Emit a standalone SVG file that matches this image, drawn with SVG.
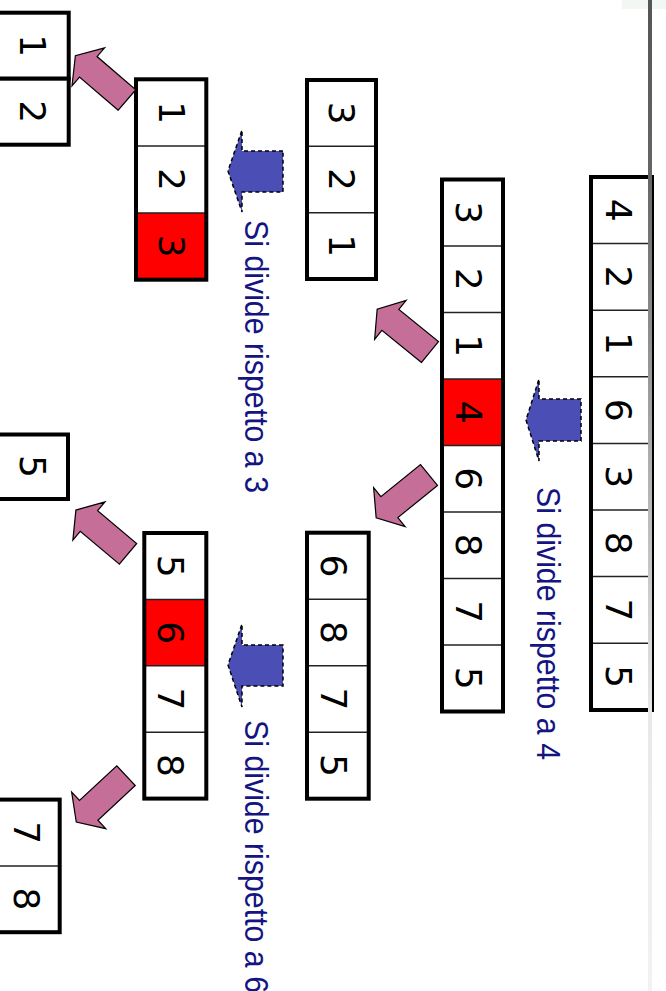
<svg xmlns="http://www.w3.org/2000/svg" width="666" height="991" viewBox="0 0 666 991">
<defs>
<linearGradient id="edge" gradientUnits="userSpaceOnUse" x1="0" y1="0" x2="0" y2="991">
<stop offset="0" stop-color="#555"/>
<stop offset="0.18" stop-color="#666"/>
<stop offset="0.45" stop-color="#aaa"/>
<stop offset="0.72" stop-color="#e8e8e8"/>
<stop offset="1" stop-color="#f2f2f2"/>
</linearGradient>
<path id="pk" d="M0,-13.5 L51,-13.5 L51,-25 L68,0 L51,25 L51,13.5 L0,13.5 Z"/>
</defs>
<style>
.cell{fill:#fff;stroke:none}
.red{fill:#ff0000;stroke:none}
.sep{stroke:#222;stroke-width:1.5}
.box{fill:none;stroke:#000;stroke-width:4}
.num{font-family:"DejaVu Sans",Verdana,sans-serif;font-size:36px;fill:#000;text-anchor:middle}
.lbl{font-family:"Liberation Sans",Arial,sans-serif;font-size:34px;fill:#141482}
.blue{fill:#4b4fb5;stroke:#000;stroke-width:1.5;stroke-dasharray:4 3}
.pink{fill:#c46e98;stroke:#000;stroke-width:1.2}
</style>
<rect x="0" y="0" width="666" height="991" fill="#fff"/>
<rect x="622" y="0" width="44" height="9" fill="#f3f7f3"/>

<g id="arr-main">
<rect class="cell" x="591" y="177" width="61" height="533"/>
<g class="sep"><line x1="591" y1="243.6" x2="652" y2="243.6"/><line x1="591" y1="310.2" x2="652" y2="310.2"/><line x1="591" y1="376.8" x2="652" y2="376.8"/><line x1="591" y1="443.4" x2="652" y2="443.4"/><line x1="591" y1="510" x2="652" y2="510"/><line x1="591" y1="576.6" x2="652" y2="576.6"/><line x1="591" y1="643.2" x2="652" y2="643.2"/></g>
<rect class="box" x="591" y="177" width="61" height="533"/>
<text class="num" transform="translate(605.7,210.3) rotate(90)">4</text>
<text class="num" transform="translate(605.7,276.9) rotate(90)">2</text>
<text class="num" transform="translate(605.7,343.5) rotate(90)">1</text>
<text class="num" transform="translate(605.7,410.1) rotate(90)">6</text>
<text class="num" transform="translate(605.7,476.7) rotate(90)">3</text>
<text class="num" transform="translate(605.7,543.3) rotate(90)">8</text>
<text class="num" transform="translate(605.7,609.9) rotate(90)">7</text>
<text class="num" transform="translate(605.7,676.5) rotate(90)">5</text>
</g>

<g id="arr-32146875">
<rect class="cell" x="442" y="179.5" width="61" height="532"/>
<rect class="red" x="442" y="379" width="61" height="66.5"/>
<g class="sep"><line x1="442" y1="246" x2="503" y2="246"/><line x1="442" y1="312.5" x2="503" y2="312.5"/><line x1="442" y1="379" x2="503" y2="379"/><line x1="442" y1="445.5" x2="503" y2="445.5"/><line x1="442" y1="512" x2="503" y2="512"/><line x1="442" y1="578.5" x2="503" y2="578.5"/><line x1="442" y1="645" x2="503" y2="645"/></g>
<rect class="box" x="442" y="179.5" width="61" height="532"/>
<text class="num" transform="translate(456,212.75) rotate(90)">3</text>
<text class="num" transform="translate(456,279.25) rotate(90)">2</text>
<text class="num" transform="translate(456,345.75) rotate(90)">1</text>
<text class="num" transform="translate(456,412.25) rotate(90)">4</text>
<text class="num" transform="translate(456,478.75) rotate(90)">6</text>
<text class="num" transform="translate(456,545.25) rotate(90)">8</text>
<text class="num" transform="translate(456,611.75) rotate(90)">7</text>
<text class="num" transform="translate(456,678.25) rotate(90)">5</text>
</g>

<g id="arr-321">
<rect class="cell" x="307" y="80" width="69" height="199"/>
<g class="sep"><line x1="307" y1="146.3" x2="376" y2="146.3"/><line x1="307" y1="212.7" x2="376" y2="212.7"/></g>
<rect class="box" x="307" y="80" width="69" height="199"/>
<text class="num" transform="translate(329,113.2) rotate(90)">3</text>
<text class="num" transform="translate(329,179.5) rotate(90)">2</text>
<text class="num" transform="translate(329,245.8) rotate(90)">1</text>
</g>

<g id="arr-6875">
<rect class="cell" x="307" y="532.7" width="61.7" height="266"/>
<g class="sep"><line x1="307" y1="599.2" x2="368.7" y2="599.2"/><line x1="307" y1="665.7" x2="368.7" y2="665.7"/><line x1="307" y1="732.2" x2="368.7" y2="732.2"/></g>
<rect class="box" x="307" y="532.7" width="61.7" height="266"/>
<text class="num" transform="translate(321,565.95) rotate(90)">6</text>
<text class="num" transform="translate(321,632.45) rotate(90)">8</text>
<text class="num" transform="translate(321,698.95) rotate(90)">7</text>
<text class="num" transform="translate(321,765.45) rotate(90)">5</text>
</g>

<g id="arr-123">
<rect class="cell" x="136" y="79.3" width="70.3" height="200.4"/>
<rect class="red" x="136" y="212.9" width="70.3" height="66.8"/>
<g class="sep"><line x1="136" y1="146.1" x2="206.3" y2="146.1"/><line x1="136" y1="212.9" x2="206.3" y2="212.9"/></g>
<rect class="box" x="136" y="79.3" width="70.3" height="200.4"/>
<text class="num" transform="translate(158.7,112.7) rotate(90)">1</text>
<text class="num" transform="translate(158.7,179.5) rotate(90)">2</text>
<text class="num" transform="translate(158.7,246.3) rotate(90)">3</text>
</g>

<g id="arr-1">
<rect class="cell" x="-4" y="12.7" width="72.7" height="66"/>
<rect class="box" x="-4" y="12.7" width="72.7" height="66"/>
<text class="num" transform="translate(20.3,45.7) rotate(90)">1</text>
</g>
<g id="arr-2">
<rect class="cell" x="-4" y="78.7" width="72.7" height="66"/>
<rect class="box" x="-4" y="78.7" width="72.7" height="66"/>
<text class="num" transform="translate(20.3,111.7) rotate(90)">2</text>
</g>

<g id="arr-5">
<rect class="cell" x="-4" y="434.5" width="72" height="64.5"/>
<rect class="box" x="-4" y="434.5" width="72" height="64.5"/>
<text class="num" transform="translate(20,466.5) rotate(90)">5</text>
</g>

<g id="arr-5678">
<rect class="cell" x="144.3" y="533" width="62" height="265.6"/>
<rect class="red" x="144.3" y="599.4" width="62" height="66.4"/>
<g class="sep"><line x1="144.3" y1="599.4" x2="206.3" y2="599.4"/><line x1="144.3" y1="665.8" x2="206.3" y2="665.8"/><line x1="144.3" y1="732.2" x2="206.3" y2="732.2"/></g>
<rect class="box" x="144.3" y="533" width="62" height="265.6"/>
<text class="num" transform="translate(158,566.2) rotate(90)">5</text>
<text class="num" transform="translate(158,632.6) rotate(90)">6</text>
<text class="num" transform="translate(158,699) rotate(90)">7</text>
<text class="num" transform="translate(158,765.4) rotate(90)">8</text>
</g>

<g id="arr-78">
<rect class="cell" x="-4" y="799.6" width="63.7" height="132.6"/>
<line class="sep" x1="-4" y1="865.9" x2="59.7" y2="865.9"/>
<rect class="box" x="-4" y="799.6" width="63.7" height="132.6"/>
<text class="num" transform="translate(13.7,832.7) rotate(90)">7</text>
<text class="num" transform="translate(13.7,899) rotate(90)">8</text>
</g>

<g id="labels">
<text class="lbl" transform="translate(537,487) rotate(90)" textLength="273" lengthAdjust="spacingAndGlyphs">Si divide rispetto a 4</text>
<text class="lbl" transform="translate(245,220) rotate(90)" textLength="273" lengthAdjust="spacingAndGlyphs">Si divide rispetto a 3</text>
<text class="lbl" transform="translate(245,720) rotate(90)" textLength="273" lengthAdjust="spacingAndGlyphs">Si divide rispetto a 6</text>
</g>

<g id="connectors">
<path class="blue" d="M581,399 L539,399 L539,379 L526,420 L539,461 L539,441 L581,441 Z"/>
<path class="blue" d="M283,151 L242,151 L242,130 L228,171 L242,212 L242,192 L283,192 Z"/>
<path class="blue" d="M283,645 L242,645 L242,624 L228,665 L242,707 L242,686 L283,686 Z"/>
<use href="#pk" class="pink" transform="translate(430,352) rotate(219)"/>
<use href="#pk" class="pink" transform="translate(429,475) rotate(141)"/>
<use href="#pk" class="pink" transform="translate(127,100) rotate(220.6)"/>
<use href="#pk" class="pink" transform="translate(128,553.8) rotate(220)"/>
<use href="#pk" class="pink" transform="translate(126,775.6) rotate(137)"/>
</g>

<line x1="650" y1="0" x2="650" y2="991" stroke="url(#edge)" stroke-width="4"/>
</svg>
